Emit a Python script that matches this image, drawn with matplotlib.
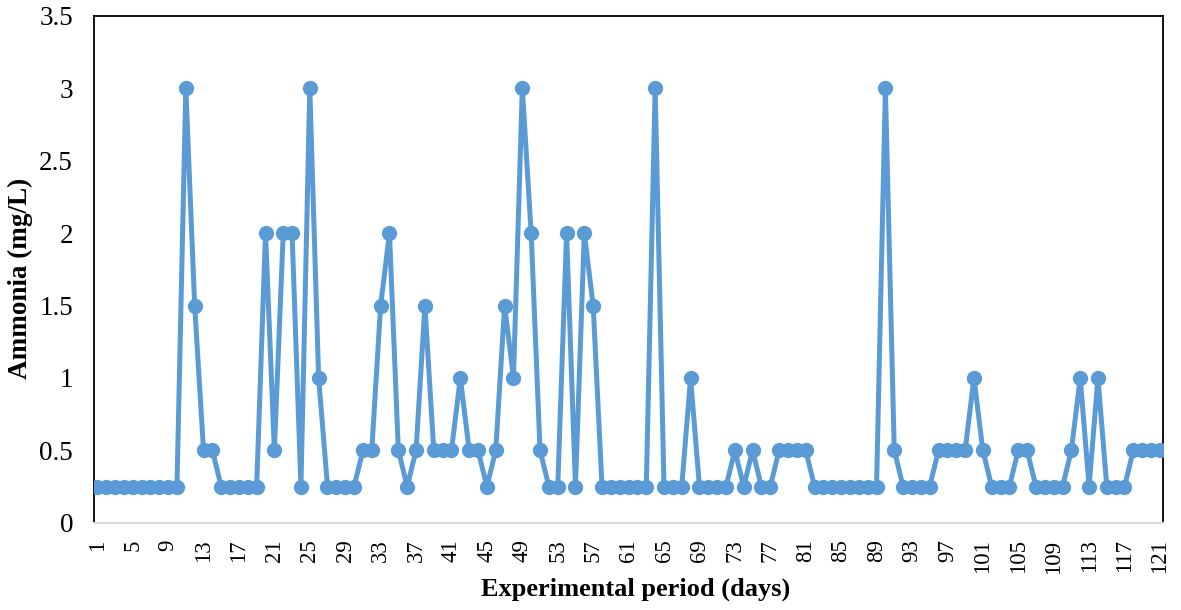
#!/usr/bin/env python3
"""Line chart of daily ammonia concentration over the experimental period."""

import matplotlib

matplotlib.use("Agg")
import matplotlib.pyplot as plt

plt.rcParams["font.family"] = ["Liberation Serif", "DejaVu Serif"]

# Day numbers and measured ammonia (mg/L)
days = list(range(1, 122))
ammonia = [
    0.25, 0.25, 0.25, 0.25, 0.25, 0.25, 0.25, 0.25, 0.25, 0.25,  # 1-10
    3.0, 1.5, 0.5, 0.5, 0.25, 0.25, 0.25, 0.25, 0.25, 2.0,        # 11-20
    0.5, 2.0, 2.0, 0.25, 3.0, 1.0, 0.25, 0.25, 0.25, 0.25,        # 21-30
    0.5, 0.5, 1.5, 2.0, 0.5, 0.25, 0.5, 1.5, 0.5, 0.5,            # 31-40
    0.5, 1.0, 0.5, 0.5, 0.25, 0.5, 1.5, 1.0, 3.0, 2.0,            # 41-50
    0.5, 0.25, 0.25, 2.0, 0.25, 2.0, 1.5, 0.25, 0.25, 0.25,       # 51-60
    0.25, 0.25, 0.25, 3.0, 0.25, 0.25, 0.25, 1.0, 0.25, 0.25,     # 61-70
    0.25, 0.25, 0.5, 0.25, 0.5, 0.25, 0.25, 0.5, 0.5, 0.5,        # 71-80
    0.5, 0.25, 0.25, 0.25, 0.25, 0.25, 0.25, 0.25, 0.25, 3.0,     # 81-90
    0.5, 0.25, 0.25, 0.25, 0.25, 0.5, 0.5, 0.5, 0.5, 1.0,         # 91-100
    0.5, 0.25, 0.25, 0.25, 0.5, 0.5, 0.25, 0.25, 0.25, 0.25,      # 101-110
    0.5, 1.0, 0.25, 1.0, 0.25, 0.25, 0.25, 0.5, 0.5, 0.5,         # 111-120
    0.5,                                                          # 121
]
x_tick_days = list(range(1, 122, 4))
y_ticks = [0, 0.5, 1, 1.5, 2, 2.5, 3, 3.5]
y_tick_labels = ["0", "0.5", "1", "1.5", "2", "2.5", "3", "3.5"]

fig = plt.figure(figsize=(11.81, 6.10), dpi=100)
ax = fig.add_axes([0.0795, 0.143, 0.9055, 0.831])

ax.plot(days, ammonia, color="#5B9BD5", linewidth=3.6, marker="o",
        markersize=11, markeredgewidth=0, solid_joinstyle="round", zorder=3)

ax.set_xlim(0.62, 121.38)
ax.set_ylim(0, 3.5)
ax.set_xticks(x_tick_days)
ax.set_xticklabels([str(d) for d in x_tick_days], rotation=90, fontsize=16.5)
ax.set_yticks(y_ticks)
ax.set_yticklabels(y_tick_labels, fontsize=19.5)
ax.tick_params(axis="x", length=0, pad=12)
ax.tick_params(axis="y", length=0, pad=15)

for side in ("left", "right", "top"):
    ax.spines[side].set_color("black")
    ax.spines[side].set_linewidth(1.3)
ax.spines["bottom"].set_color("#d9d9d9")
ax.spines["bottom"].set_linewidth(1.5)

ax.set_xlabel("Experimental period (days)", fontsize=19, fontweight="bold")
ax.set_ylabel("Ammonia (mg/L)", fontsize=19.5, fontweight="bold")
ax.xaxis.set_label_coords(0.507, -0.109)
ax.yaxis.set_label_coords(-0.057, 0.483)

fig.savefig("out.png", dpi=100)
